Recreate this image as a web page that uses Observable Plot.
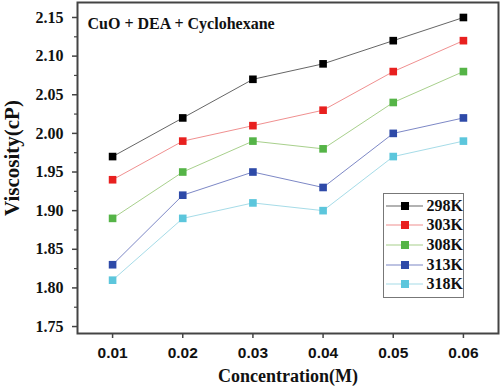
<!DOCTYPE html>
<html><head><meta charset="utf-8">
<script src="https://cdn.jsdelivr.net/npm/d3@7"></script>
<script src="https://cdn.jsdelivr.net/npm/@observablehq/plot@0.6"></script>
<style>
body{margin:0;background:#fff;}
#wrap{position:relative;width:500px;height:388px;}
#wrap svg text{font-family:"Liberation Serif","Times New Roman",serif;}
#legend{position:absolute;left:383px;top:193px;width:81px;height:105px;border:1px solid #777;box-sizing:border-box;background:#fff;font-family:"Liberation Serif","Times New Roman",serif;font-weight:bold;font-size:16px;color:#111;}
.row{display:flex;align-items:center;height:19.6px;margin-left:2px;}
.row:first-child{margin-top:2px;}
.row span{margin-left:4px;}
</style>
</head><body>
<div id="wrap"></div>
<script>
const concentrations = [0.01, 0.02, 0.03, 0.04, 0.05, 0.06];
const seriesNames = ["298K", "303K", "308K", "313K", "318K"];
const v298 = [1.97, 2.02, 2.07, 2.09, 2.12, 2.15];
const v303 = [1.94, 1.99, 2.01, 2.03, 2.08, 2.12];
const v308 = [1.89, 1.95, 1.99, 1.98, 2.04, 2.08];
const v313 = [1.83, 1.92, 1.95, 1.93, 2.00, 2.02];
const v318 = [1.81, 1.89, 1.91, 1.90, 1.97, 1.99];
const yTicks = [1.75, 1.80, 1.85, 1.90, 1.95, 2.00, 2.05, 2.10, 2.15];
const yMinor = [1.775, 1.825, 1.875, 1.925, 1.975, 2.025, 2.075, 2.125];
const markerColors = ["#000000", "#e8201f", "#55b447", "#2e4aa8", "#5cc6dc"];
const lineColors = ["#666666", "#f09090", "#a8d08c", "#7d88c6", "#a6dce8"];

const allValues = [v298, v303, v308, v313, v318];
const data = [];
allValues.forEach((vals, i) => vals.forEach((v, j) => data.push({series: seriesNames[i], x: concentrations[j], y: v})));

const plot = Plot.plot({
  width: 500, height: 388,
  marginLeft: 77, marginTop: 2, marginRight: 2, marginBottom: 55,
  style: {background: "#fff"},
  x: {domain: [0.005, 0.065]},
  y: {domain: [1.741, 2.1694]},
  color: {domain: seriesNames, range: markerColors},
  marks: [
    Plot.axisY({ticks: yTicks, tickSize: 5, tickFormat: d => d.toFixed(2), fontSize: 16, fontWeight: "bold", fill: "#111", stroke: "#444", strokeWidth: 1.5, tickPadding: 9, label: null}),
    Plot.axisY({ticks: yMinor, tickSize: 3, tickFormat: () => "", stroke: "#444", strokeWidth: 1.2, label: null}),
    Plot.axisX({ticks: concentrations, tickSize: 5, tickFormat: d => d.toFixed(2), fontSize: 15.5, fontWeight: "bold", fill: "#111", stroke: "#444", strokeWidth: 1.5, tickPadding: 8, label: null, className: "xticks"}),
    Plot.text(["Viscosity(cP)"], {frameAnchor: "left", textAnchor: "middle", lineAnchor: "middle", rotate: -90, dx: -65, dy: -10, fontSize: 21, fontWeight: "bold", fill: "#111"}),
    Plot.text(["Concentration(M)"], {frameAnchor: "bottom", lineAnchor: "middle", dy: 43, fontSize: 18, fontWeight: "bold", fill: "#111"}),
    Plot.text(["CuO + DEA + Cyclohexane"], {frameAnchor: "top-left", lineAnchor: "middle", dx: 10, dy: 21, fontSize: 16, fontWeight: "bold", fill: "#111"}),
    ...seriesNames.map((s, i) => Plot.line(data.filter(d => d.series === s), {x: "x", y: "y", stroke: lineColors[i], strokeWidth: 1})),
    Plot.dot(data, {x: "x", y: "y", fill: "series", symbol: "square", r: 4.3, stroke: "none"}),
    Plot.frame({stroke: "#444", strokeWidth: 2})
  ]
});
const wrap = document.getElementById("wrap");
wrap.appendChild(plot);
d3.select(plot).selectAll("g.xticks text").style("font-family", "'Liberation Sans', Arial, sans-serif");

const legend = document.createElement("div");
legend.id = "legend";
seriesNames.forEach((s, i) => {
  const row = document.createElement("div");
  row.className = "row";
  row.innerHTML = `<svg width="38" height="10"><line x1="0" y1="5" x2="38" y2="5" stroke="${lineColors[i]}" stroke-width="1.2"/><rect x="15" y="1" width="8" height="8" fill="${markerColors[i]}"/></svg><span>${s}</span>`;
  legend.appendChild(row);
});
wrap.appendChild(legend);
</script>
</body></html>
